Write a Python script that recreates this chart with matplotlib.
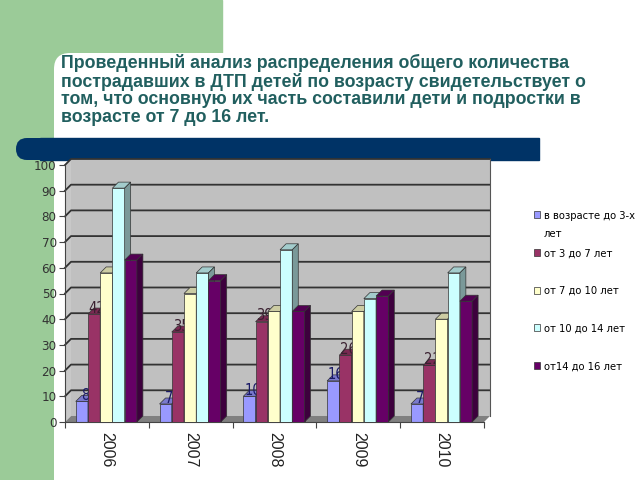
import matplotlib.pyplot as plt
import numpy as np
from matplotlib import font_manager
from matplotlib.patches import Rectangle, FancyBboxPatch, Polygon

# данные
years = ['2006', '2007', '2008', '2009', '2010']
series_names = ['в возрасте до 3-х', 'от 3 до 7 лет', 'от 7 до 10 лет',
                'от 10 до 14 лет', 'от14 до 16 лет']
name_tail = 'лет'   # вторая строка первой подписи легенды
do3 = [8, 7, 10, 16, 7]
ot3_7 = [42, 35, 39, 26, 22]
ot7_10 = [58, 50, 43, 43, 40]
ot10_14 = [91, 58, 67, 48, 58]
ot14_16 = [63, 55, 43, 49, 47]
labels_do3 = ['8', '7', '10', '16', '7']
labels_3_7 = ['42', '35', '39', '26', '22']

colors = ['#9999ff', '#993366', '#ffffcc', '#ccffff', '#660066']
title = ("Проведенный анализ распределения общего количества\n"
         "пострадавших в ДТП детей по возрасту свидетельствует о\n"
         "том, что основную их часть составили дети и подростки в\n"
         "возрасте от 7 до 16 лет.")

# узкий шрифт, если есть
fonts = font_manager.fontManager.ttflist
if any(f.name == 'Liberation Sans Narrow' for f in fonts):
    nfont = dict(family='Liberation Sans Narrow', stretch='normal')
    tick_fs, leg_fs = 10, 9
elif any(f.name == 'DejaVu Sans' and f.stretch == 'condensed' for f in fonts):
    nfont = dict(family='DejaVu Sans', stretch='condensed')
    tick_fs, leg_fs = 9.5, 8
else:
    nfont = dict(family='Liberation Sans', stretch='normal')
    tick_fs, leg_fs = 9, 8

fig = plt.figure(figsize=(6.4, 4.8), dpi=100)

# фон слайда (в пикселях)
bg = fig.add_axes([0, 0, 1, 1], zorder=0)
bg.set_xlim(0, 640)
bg.set_ylim(480, 0)
bg.axis('off')
green = '#9bcb98'
bg.add_patch(Rectangle((0, 0), 222, 80, color=green))
bg.add_patch(Rectangle((0, 0), 54, 480, color=green))
bg.add_patch(FancyBboxPatch((54, 53), 700, 600, boxstyle='round,pad=0,rounding_size=16',
                            fc='white', ec='none'))
bg.add_patch(FancyBboxPatch((16, 138), 523, 22, boxstyle='round,pad=0,rounding_size=11',
                            fc='#003366', ec='none'))
bg.add_patch(Rectangle((40, 138), 499, 22, color='#003366'))
bg.text(61, 54, title, fontsize=12.8, fontweight='bold', color='#215f5f',
        family='Liberation Sans', va='top', ha='left', linespacing=1.05)

# график
ax = fig.add_axes([65/640, (480-422)/480, 419/640, (422-165)/480], zorder=1)
ax.set_facecolor('none')
ax.set_xlim(0, 5)
ax.set_ylim(0, 100)
dx = 6/83.8
dy = 6/2.567

# стенки и пол
ax.add_patch(Polygon([(dx, dy), (5+dx, dy), (5+dx, 100+dy), (dx, 100+dy)],
                     closed=True, fc='#c0c0c0', ec='none', clip_on=False, zorder=0))
ax.add_patch(Polygon([(0, 0), (dx, dy), (dx, 100+dy), (0, 100)],
                     closed=True, fc='#c8c8c8', ec='none', clip_on=False, zorder=0))
ax.add_patch(Polygon([(0, 0), (5, 0), (5+dx, dy), (dx, dy)],
                     closed=True, fc='#808080', ec='none', clip_on=False, zorder=0.5))
for v in range(10, 101, 10):
    ax.plot([0, dx, 5+dx], [v, v+dy, v+dy], color='#333333', lw=1.3,
            clip_on=False, zorder=0.6)
ax.plot([5+dx, 5+dx], [dy, 100+dy], color='#555555', lw=0.8, clip_on=False, zorder=0.6)

data = [do3, ot3_7, ot7_10, ot10_14, ot14_16]
w = 0.146
x = np.arange(len(years))
start = 0.128
handles = []
for s, vals in enumerate(data):
    c = np.array(plt.matplotlib.colors.to_rgb(colors[s]))
    left = x + start + s*w
    b = ax.bar(left, vals, width=w, align='edge', color=colors[s],
               edgecolor='#333333', linewidth=0.5, zorder=2+s)
    handles.append(b)
    for x0, h in zip(left, vals):
        ax.add_patch(Polygon([(x0, h), (x0+w, h), (x0+w+dx, h+dy), (x0+dx, h+dy)],
                             closed=True, fc=c*0.8, ec='#333333', lw=0.5, zorder=2+s))
        ax.add_patch(Polygon([(x0+w, 0), (x0+w+dx, dy), (x0+w+dx, h+dy), (x0+w, h)],
                             closed=True, fc=c*0.6, ec='#333333', lw=0.5, zorder=2+s))

for i in range(len(years)):
    ax.text(x[i] + start + w/2 + dx/2, do3[i] + dy, labels_do3[i], ha='center',
            va='center', fontsize=10.5, color='#1a1a66', zorder=2.5, **nfont)
    ax.text(x[i] + start + w + w/2 + dx/2, ot3_7[i] + dy, labels_3_7[i], ha='center',
            va='center', fontsize=10.5, color='#3a2030', zorder=3.5, **nfont)

for sp in ['top', 'right']:
    ax.spines[sp].set_visible(False)
ax.spines['left'].set_color('#444444')
ax.spines['bottom'].set_color('#444444')
ax.spines['left'].set_zorder(1)
ax.set_yticks(range(0, 101, 10))
ax.set_yticklabels([str(v) for v in range(0, 101, 10)], fontsize=tick_fs,
                   color='#333333', **nfont)
ax.tick_params(axis='y', length=4, color='#444444', pad=2)
ax.set_xticks(range(0, 6))
ax.set_xticklabels([])
ax.set_xticks(x + 0.5, minor=True)
ax.set_xticklabels(years, minor=True, rotation=-90, fontsize=11.5, color='#222222',
                   family='Liberation Sans')
ax.tick_params(axis='x', which='major', length=4, color='#444444')
ax.tick_params(axis='x', which='minor', length=0, pad=7)

leg = fig.legend(handles, series_names, loc='upper left',
                 bbox_to_anchor=(528/640, 1 - 205/480), frameon=False,
                 prop=dict(size=leg_fs, **nfont), handlelength=0.6, borderpad=0,
                 handleheight=0.6, handletextpad=0.3, labelspacing=2.5)
fig.canvas.draw()
bb = leg.get_texts()[0].get_window_extent()
fig.text(bb.x0/640, (bb.y0 - 8)/480, name_tail, fontsize=leg_fs, va='top',
         ha='left', **nfont)

fig.savefig('out.png', dpi=100)
